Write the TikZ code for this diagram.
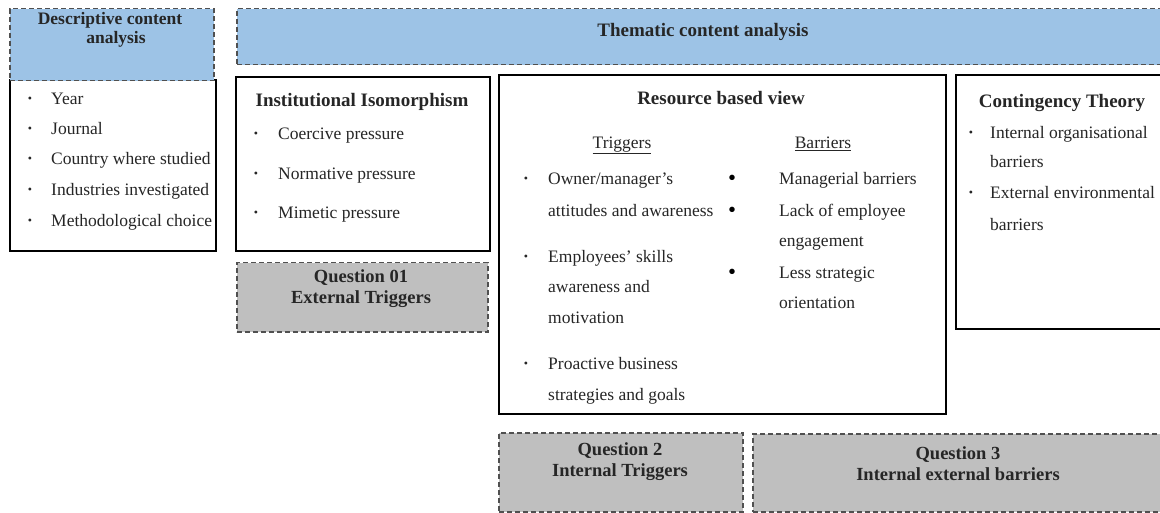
\documentclass[tikz,border=0pt]{standalone}
\usepackage{fontspec}
\setmainfont{Liberation Serif}
\definecolor{hdrblue}{HTML}{9DC3E6}
\definecolor{qgray}{HTML}{BFBFBF}
\definecolor{dashgray}{HTML}{505050}
\tikzset{
  solidbox/.style={draw=black, line width=2pt, fill=white, inner sep=0pt, anchor=north west},
  hdrbox/.style={draw=dashgray, dash pattern=on 5pt off 3pt, line width=1.5pt, fill=hdrblue, inner sep=0pt, anchor=north west},
  qbox/.style={draw=dashgray, dash pattern=on 5pt off 3pt, line width=1.5pt, fill=qgray, inner sep=0pt, anchor=north west},
  body/.style={font=\fontsize{17.5}{20}\selectfont, inner sep=0pt, anchor=mid west, text=black!85, yshift=-4pt},
  sbul/.style={font=\fontsize{12}{14}\selectfont, inner sep=0pt, anchor=mid, text=black!85, yshift=-2pt},
  bbul/.style={font=\fontsize{20}{22}\selectfont\bfseries, inner sep=0pt, anchor=mid, yshift=-4pt},
  ttl/.style={font=\fontsize{19}{22}\selectfont\bfseries, inner sep=0pt, anchor=base, text=black!85},
  qtxt/.style={font=\fontsize{18.5}{21}\selectfont\bfseries, inner sep=0pt, anchor=base, align=center, text=black!85},
  sub/.style={font=\fontsize{17.5}{20}\selectfont, inner sep=0pt, anchor=mid, text=black!85, yshift=-4pt}
}
\newcommand{\rbox}[6]{\node[#2, minimum width=#5pt-#3pt, minimum height=#6pt-#4pt] (#1) at (#3,#4) {};}
\begin{document}
\begin{tikzpicture}[x=1pt,y=-1pt]
\useasboundingbox (0,0) rectangle (1160,513);
% boxes
\rbox{desc}{solidbox}{9}{79}{215}{250}
\rbox{deschdr}{hdrbox}{9}{8}{213}{80}
\rbox{thhdr}{hdrbox}{236}{8}{1175}{64}
\rbox{inst}{solidbox}{235}{76}{489}{250}
\rbox{q1}{qbox}{236}{262}{487}{331}
\rbox{rbv}{solidbox}{498}{74}{945}{413}
\rbox{cont}{solidbox}{955}{74}{1175}{328}
\rbox{q2}{qbox}{498}{432}{742}{511}
\rbox{q3}{qbox}{752}{433}{1175}{511}
% headers
\node[ttl, font=\fontsize{17.5}{19.5}\selectfont\bfseries, align=center] (deschdrt) at (110,44) {Descriptive content\\\hspace*{12pt}analysis};
\node[ttl] (thhdrt) at (703,37) {Thematic content analysis};
% descriptive list
\foreach \yy/\tx [count=\i] in {98/Year,128/Journal,158/Country where studied,189/Industries investigated,220/Methodological choice}{
  \node[sbul] (db\i) at (30,\yy) {•};
  \node[body] (dt\i) at (51,\yy) {\tx};
}
% institutional
\node[ttl] (instt) at (362,107) {Institutional Isomorphism};
\foreach \yy/\tx [count=\i] in {133/Coercive pressure,173/Normative pressure,212/Mimetic pressure}{
  \node[sbul] (ib\i) at (256,\yy) {•};
  \node[body] (it\i) at (278,\yy) {\tx};
}
% question boxes
\node[qtxt] (q1t) at (361,304) {Question 01\\External Triggers};
\node[qtxt] (q2t) at (620,476) {Question 2\\Internal Triggers};
\node[qtxt] (q3t) at (958,480) {Question 3\\Internal external barriers};
% resource based view
\node[ttl] (rbvt) at (721,105) {Resource based view};
\node[sub] (trig) at (622,142) {\underline{Triggers}};
\node[sub] (barr) at (823,142) {\underline{Barriers}};
\foreach \yy [count=\i] in {178,256,363}{ \node[sbul] (tb\i) at (526,\yy) {•}; }
\foreach \yy/\tx [count=\i] in {178/{Owner/manager’s},210/attitudes and awareness,256/Employees’ skills,286/awareness and,317/motivation,363/Proactive business,394/strategies and goals}{
  \node[body] (tt\i) at (548,\yy) {\tx};
}
\foreach \yy [count=\i] in {178,210,272}{ \node[bbul] (bb\i) at (732,\yy) {•}; }
\foreach \yy/\tx [count=\i] in {178/Managerial barriers,210/Lack of employee,240/engagement,272/Less strategic,302/orientation}{
  \node[body] (bt\i) at (779,\yy) {\tx};
}
% contingency
\node[ttl] (contt) at (1062,108) {Contingency Theory};
\foreach \yy [count=\i] in {132,192}{ \node[sbul] (cb\i) at (971,\yy) {•}; }
\foreach \yy/\tx [count=\i] in {132/Internal organisational,161/barriers,192/External environmental,224/barriers}{
  \node[body] (ct\i) at (990,\yy) {\tx};
}
\end{tikzpicture}
\end{document}
